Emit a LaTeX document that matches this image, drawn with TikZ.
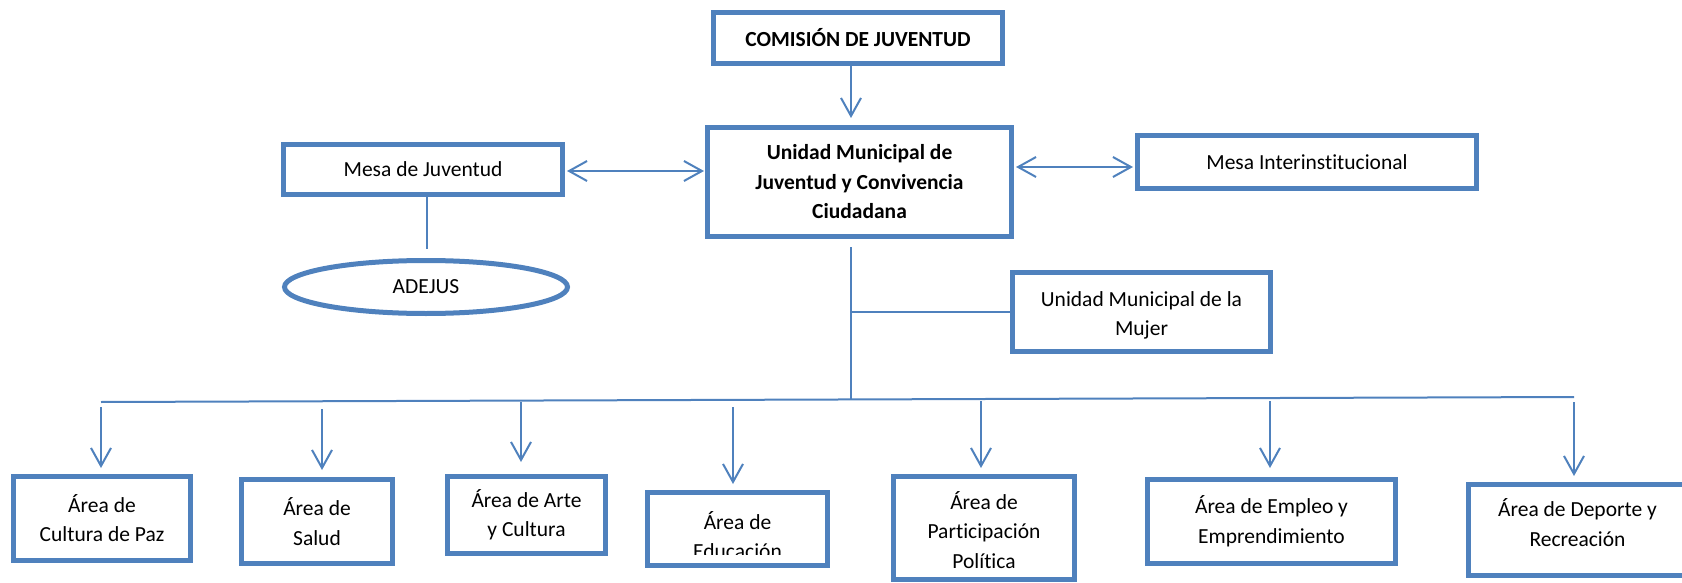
\documentclass[tikz,border=0pt]{standalone}
\usepackage{fontspec}
\setmainfont{Carlito}[Ligatures={NoCommon}]
\usetikzlibrary{arrows.meta,shapes.geometric}
\definecolor{ob}{HTML}{4F81BD}
\begin{document}
\begin{tikzpicture}[x=1pt,y=-1pt,
  txt/.style={inner sep=0pt,align=center,font=\fontsize{21.5pt}{29.5pt}\selectfont},
  box/.style={txt,draw=ob,line width=5pt,rectangle},
  oval/.style={txt,draw=ob,line width=5pt,ellipse},
  conn/.style={draw=ob,line width=2pt},
  arr/.style={conn,-{Straight Barb[length=18pt,width=20pt]}},
  darr/.style={conn,{Straight Barb[length=18pt,width=20pt]}-{Straight Barb[length=18pt,width=20pt]}}]
\useasboundingbox (0,0) rectangle (1682,583);

% top level
\node[box,minimum width=289pt,minimum height=51pt,font=\fontsize{21.5pt}{29.5pt}\selectfont\bfseries] (com) at (858,38) {COMISIÓN DE JUVENTUD};
\node[box,minimum width=304pt,minimum height=108pt,font=\fontsize{21.5pt}{29.5pt}\selectfont\bfseries] (uni) at (859.5,182) {Unidad Municipal de\\Juventud y Convivencia\\Ciudadana};
\node[box,minimum width=279pt,minimum height=50pt] (mj) at (423,169.5) {Mesa de Juventud};
\node[box,minimum width=339pt,minimum height=53pt] (mi) at (1307,162) {Mesa Interinstitucional};
\node[box,minimum width=258pt,minimum height=79pt] (muj) at (1141.5,312) {};
\node[txt] (mujt) at (1141.5,315.5) {Unidad Municipal de la\\Mujer};
\node[oval,minimum width=283pt,minimum height=53pt] (ade) at (426,287) {ADEJUS};

% bottom boxes
\node[box,minimum width=177pt,minimum height=84pt] (a1) at (102,518) {Área de\\Cultura de Paz};
\node[box,minimum width=151pt,minimum height=84pt] (a2) at (317,521.5) {Área de\\Salud};
\node[box,minimum width=158pt,minimum height=77pt] (a3) at (526.5,515) {Área de Arte\\y Cultura};
\node[box,minimum width=180pt,minimum height=73pt] (a4) at (737.5,529) {};
\begin{scope}
  \clip (645,490) rectangle (830,554);
  \node[txt] (a4t) at (737.5,535) {Área de\\Educación};
\end{scope}
\node[box,minimum width=181pt,minimum height=103pt] (a5) at (984,528) {};
\node[txt] (a5t) at (984,530) {Área de\\Participación\\Política};
\node[box,minimum width=248pt,minimum height=84pt] (a6) at (1271.5,521.5) {Área de Empleo y\\Emprendimiento};
\node[box,minimum width=218pt,minimum height=91pt] (a7) at (1577.5,530) {};
\node[txt] (a7t) at (1577.5,522.5) {Área de Deporte y\\Recreación};

% coordinates
\coordinate (s0) at (851,247);
\coordinate (s1) at (851,400);
\coordinate (bm) at (851,312);
\coordinate (busL) at (101,402);
\coordinate (busR) at (1574,397);
\coordinate (ej) at (427,249);

% connectors
\draw[arr] (com.south -| 851,0) -- (851,118);
\draw[darr] (567,171) -- (704,171);
\draw[darr] (1016,167) -- (1133,167);
\draw[conn] (mj.south -| ej) -- (ej);
\draw[conn] (s0) -- (s1);
\draw[conn] (bm) -- (bm -| muj.west);
\draw[conn] (busL) -- (busR);

\draw[arr] (101,407) -- (101,468);
\draw[arr] (322,409) -- (322,470);
\draw[arr] (521,402) -- (521,462);
\draw[arr] (733,407) -- (733,484);
\draw[arr] (981,401) -- (981,468);
\draw[arr] (1270,401) -- (1270,468);
\draw[arr] (1574,402) -- (1574,476);
\end{tikzpicture}
\end{document}
